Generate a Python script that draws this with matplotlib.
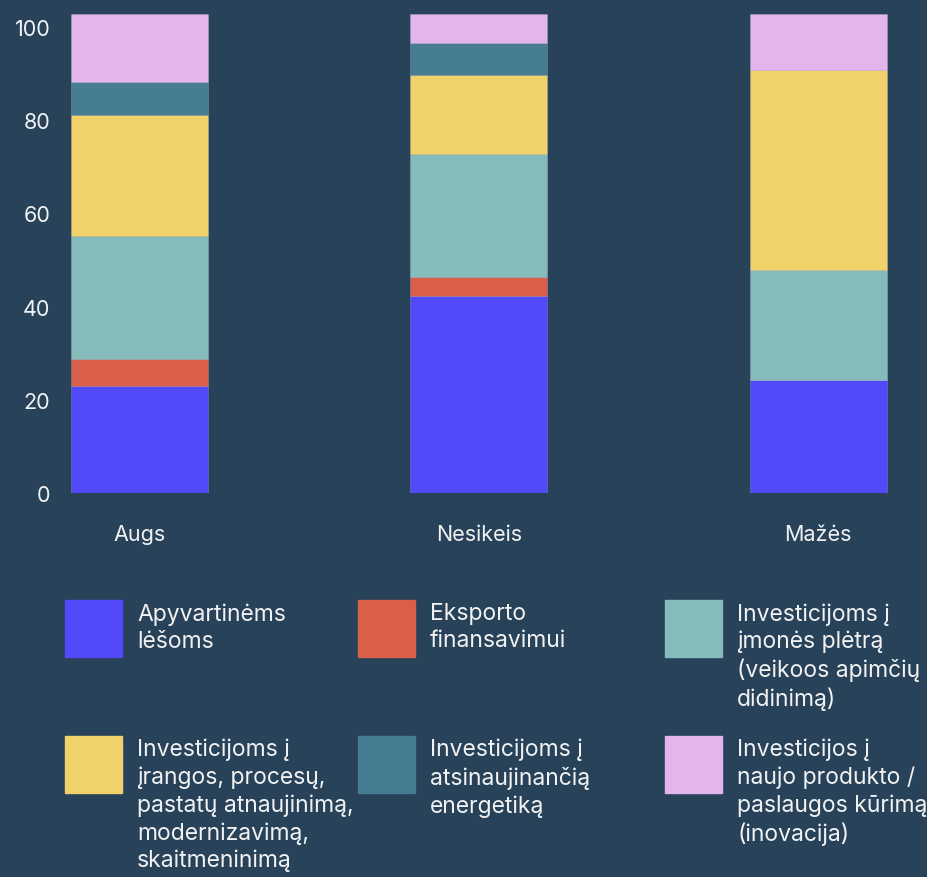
import matplotlib.pyplot as plt
from matplotlib.patches import Rectangle

# data (%)
categories = ['Augs', 'Nesikeis', 'Mažės']
apyvartinems = [23.0, 42.3, 24.2]
eksporto = [5.7, 4.0, 0.0]
pletra = [26.5, 26.5, 23.7]
iranga = [26.0, 17.0, 42.9]
energetika = [6.9, 6.8, 0.0]
inovacija = [14.7, 6.2, 11.9]
yticks = [0, 20, 40, 60, 80, 100]

labels = ['Apyvartinėms\nlėšoms',
          'Eksporto\nfinansavimui',
          'Investicijoms į\nįmonės plėtrą\n(veikoos apimčių\ndidinimą)',
          'Investicijoms į\nįrangos, procesų,\npastatų atnaujinimą,\nmodernizavimą,\nskaitmeninimą',
          'Investicijoms į\natsinaujinančią\nenergetiką',
          'Investicijos į\nnaujo produkto /\npaslaugos kūrimą\n(inovacija)']
colors = ['#5249FA', '#D95F4B', '#85BCBB', '#F1D26A', '#477D92', '#E3B5EC']
series = [apyvartinems, eksporto, pletra, iranga, energetika, inovacija]

bg = '#274259'
txt = '#F2F2F2'
plt.rcParams['font.family'] = ['Inter', 'DejaVu Sans']

W, H = 928, 878
fig = plt.figure(figsize=(W / 100, H / 100), dpi=100, facecolor=bg)
ax = fig.add_axes([60 / W, 1 - 494 / H, 850 / W, (494 - 15) / H])
ax.set_facecolor(bg)

x = list(range(len(categories)))
bottom = [0.0] * len(categories)
for vals, c in zip(series, colors):
    ax.bar(x, vals, bottom=bottom, width=0.404, color=c,
           edgecolor=(1, 1, 1, 0.18), linewidth=0.6)
    bottom = [b + v for b, v in zip(bottom, vals)]

ax.set_xlim(-0.233, 2.27)
ax.set_ylim(0, 102.8)
ax.set_xticks(x, categories)
ax.set_yticks(yticks)
for s in ax.spines.values():
    s.set_visible(False)
ax.tick_params(axis='both', length=0, colors=txt, labelsize=15.5)
ax.tick_params(axis='x', pad=22)
ax.tick_params(axis='y', pad=7)

# legend, 3 columns x 2 rows, drawn by hand
col_x = [65, 358, 665]
row_y = [601, 737]
sq = 57
for i, (lab, c) in enumerate(zip(labels, colors)):
    cx = col_x[i % 3]
    ry = row_y[i // 3]
    fig.patches.append(Rectangle((cx / W, 1 - (ry + sq) / H), sq / W, sq / H,
                                 transform=fig.transFigure, color=c))
    fig.text((cx + 72) / W, 1 - (ry + 2) / H, lab, color=txt, fontsize=16.5,
             va='top', ha='left', linespacing=1.3)

fig.savefig('out.png', dpi=100, facecolor=bg)
